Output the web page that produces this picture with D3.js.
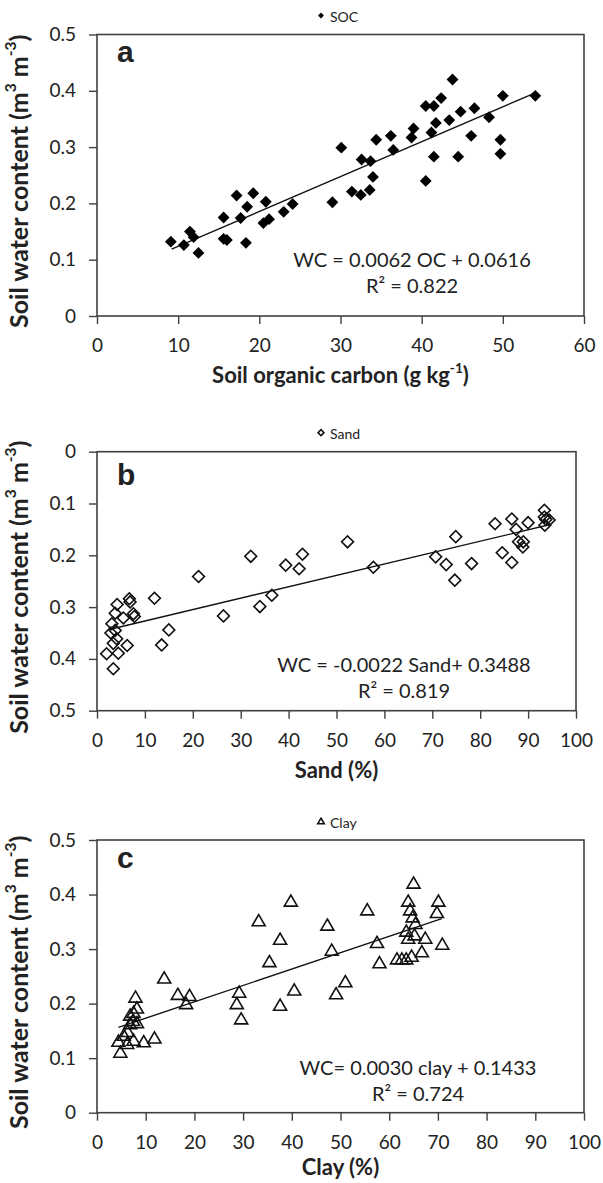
<!DOCTYPE html>
<html>
<head>
<meta charset="utf-8">
<script src="https://cdnjs.cloudflare.com/ajax/libs/d3/7.8.5/d3.min.js"></script>
<style>
  body { margin: 0; background: #fff; }
  svg { display: block; }
  .tick text { font-family: Lato, "Open Sans", sans-serif; font-size: 19px; fill: #222; }
</style>
</head>
<body>
<svg id="chart" width="603" height="1183"></svg>
<script>
// Panel a: soil organic carbon (g/kg) vs water content
const socOC = [9.1, 10.7, 11.45, 11.9, 12.5, 15.6, 15.6, 16.0, 17.2, 17.7, 18.35, 18.5, 19.25, 20.8, 20.5,
  21.2, 23.0, 24.1, 29.0, 30.1, 31.4, 32.5, 32.6, 33.6, 33.7, 34.0, 34.4, 36.2, 36.5, 38.75, 39.0, 40.5,
  40.5, 41.2, 41.5, 41.5, 41.75, 42.4, 43.4, 43.8, 44.5, 44.8, 46.1, 46.5, 48.3, 49.7, 49.7, 50.0, 54.0];
const socWC = [0.132, 0.126, 0.150, 0.140, 0.112, 0.175, 0.137, 0.135, 0.214, 0.174, 0.130, 0.194, 0.218, 0.203, 0.165,
  0.172, 0.185, 0.199, 0.202, 0.299, 0.221, 0.215, 0.278, 0.224, 0.275, 0.247, 0.313, 0.320, 0.295, 0.317, 0.333, 0.240,
  0.373, 0.326, 0.283, 0.373, 0.343, 0.387, 0.348, 0.420, 0.283, 0.363, 0.320, 0.369, 0.353, 0.313, 0.288, 0.391, 0.391];

// Panel b: sand (%) vs water content
const sandPct = [2.0, 3.4, 2.9, 3.1, 3.8, 4.2, 3.4, 4.45, 4.1, 3.8, 5.5, 6.3, 6.75, 6.9, 7.6, 7.8, 12.0, 13.5,
  15.0, 21.2, 26.4, 32.1, 34.0, 36.5, 39.4, 42.2, 42.9, 52.3, 57.7, 70.7, 72.9, 74.9, 74.7, 78.2, 83.1, 84.6,
  86.6, 86.6, 87.5, 88.0, 89.0, 88.9, 90.0, 93.4, 93.4, 93.7, 93.5, 94.4];
const sandWC = [0.390, 0.419, 0.350, 0.332, 0.312, 0.295, 0.370, 0.389, 0.361, 0.345, 0.321, 0.374, 0.284, 0.290,
  0.313, 0.318, 0.283, 0.373, 0.344, 0.241, 0.317, 0.202, 0.299, 0.277, 0.219, 0.226, 0.198, 0.174, 0.223, 0.203,
  0.218, 0.164, 0.248, 0.216, 0.139, 0.195, 0.130, 0.214, 0.150, 0.174, 0.174, 0.184, 0.137, 0.113, 0.126, 0.131,
  0.142, 0.132];

// Panel c: clay (%) vs water content
const clayPct = [4.8, 4.4, 6.2, 5.5, 7.5, 9.6, 11.8, 6.3, 6.8, 7.4, 6.8, 7.5, 8.2, 8.2, 7.9, 13.8, 16.6, 19.0,
  18.3, 29.2, 28.7, 29.6, 33.2, 35.4, 37.6, 37.6, 39.8, 40.5, 47.3, 48.2, 49.1, 51.0, 55.5, 57.5, 58.0, 61.6,
  62.6, 63.5, 64.6, 63.5, 63.9, 65.0, 63.9, 64.3, 64.8, 65.4, 65.2, 67.4, 66.7, 70.1, 69.8, 70.9];
const clayWC = [0.112, 0.132, 0.128, 0.143, 0.134, 0.131, 0.138, 0.150, 0.164, 0.170, 0.180, 0.185, 0.166, 0.193,
  0.213, 0.248, 0.218, 0.216, 0.201, 0.222, 0.201, 0.173, 0.353, 0.278, 0.319, 0.198, 0.389, 0.226, 0.345, 0.299,
  0.219, 0.241, 0.373, 0.313, 0.276, 0.283, 0.283, 0.283, 0.288, 0.334, 0.321, 0.422, 0.389, 0.373, 0.360, 0.348,
  0.327, 0.321, 0.296, 0.389, 0.368, 0.310];

// Linear fits (slope, intercept, x extent of the drawn line)
const fitSlope = [0.0062, -0.0022, 0.0030];
const fitIntercept = [0.0616, 0.3488, 0.1433];
const fitFrom = [9.2, 3, 4.4];
const fitTo = [54, 94.4, 70.8];

const wcTicks = [0, 0.1, 0.2, 0.3, 0.4, 0.5];
const ocTicks = [0, 10, 20, 30, 40, 50, 60];
const pctTicks = [0, 10, 20, 30, 40, 50, 60, 70, 80, 90, 100];

const seriesNames = ['SOC', 'Sand', 'Clay'];
const panelLetters = ['a', 'b', 'c'];
const equations = ['WC = 0.0062 OC + 0.0616', 'WC = -0.0022 Sand+ 0.3488', 'WC= 0.0030 clay + 0.1433'];
const r2Values = ['0.822', '0.819', '0.724'];

const svg = d3.select('#chart');
const axisColor = '#404040';

const panels = [
  { xs: socOC, ys: socWC, xTicks: ocTicks, left: 97, right: 584, top: 34.5, bottom: 316,
    reversed: false, marker: 'diamondFilled', letterDy: 27.5, eqX: 412, eqY: 266.7, titleDy: 67,
    xTitle: ['Soil organic carbon (g kg', '-1', ')'] },
  { xs: sandPct, ys: sandWC, xTicks: pctTicks, left: 97, right: 576, top: 451.7, bottom: 710.7,
    reversed: true, marker: 'diamondOpen', letterDy: 33, eqX: 404, eqY: 671.7, titleDy: 67,
    xTitle: ['Sand (%)'] },
  { xs: clayPct, ys: clayWC, xTicks: pctTicks, left: 97, right: 584, top: 840, bottom: 1112.7,
    reversed: false, marker: 'triangleOpen', letterDy: 28.3, eqX: 418, eqY: 1075, titleDy: 62,
    xTitle: ['Clay (%)'] }
];

// Open triangle like the spreadsheet marker
const triangleType = {
  draw(ctx, size) {
    const w = Math.sqrt(size) * 0.55, h = Math.sqrt(size) * 0.47;
    ctx.moveTo(0, -h);
    ctx.lineTo(w, h);
    ctx.lineTo(-w, h);
    ctx.closePath();
  }
};

function drawMarker(g, kind, x, y, scale) {
  if (kind === 'triangleOpen') {
    return g.append('path')
      .attr('d', d3.symbol(triangleType, 140 * scale * scale)())
      .attr('transform', `translate(${x},${y})`)
      .attr('fill', 'none').attr('stroke', '#111').attr('stroke-width', 1.6);
  }
  const p = g.append('path')
    .attr('d', d3.symbol(d3.symbolSquare, 70 * scale * scale)())
    .attr('transform', `translate(${x},${y}) rotate(45)`);
  if (kind === 'diamondFilled') p.attr('fill', '#000');
  else p.attr('fill', 'none').attr('stroke', '#111').attr('stroke-width', 1.6);
  return p;
}

// text pieces alternate [normal, sup, normal, sup, ...]
function writeParts(text, parts) {
  parts.forEach((s, i) => {
    const t = text.append('tspan').text(s);
    if (i % 2 === 1) t.attr('font-size', '0.62em').attr('dy', '-0.75em');
    else if (i > 0) t.attr('dy', '0.465em');
  });
}

panels.forEach((p, i) => {
  const g = svg.append('g').attr('class', `panel panel-${panelLetters[i]}`);

  const x = d3.scaleLinear().domain([0, p.xTicks[p.xTicks.length - 1]]).range([p.left, p.right]);
  const y = d3.scaleLinear().domain([0, 0.5])
    .range(p.reversed ? [p.top, p.bottom] : [p.bottom, p.top]);

  // axes
  g.append('g')
    .attr('transform', `translate(${p.left},0)`)
    .call(d3.axisLeft(y).tickValues(wcTicks).tickSize(8).tickSizeOuter(0).tickPadding(13)
      .tickFormat(d => d === 0 ? '0' : d.toFixed(1)))
    .call(a => a.select('.domain').remove())
    .call(a => a.selectAll('line').attr('stroke', axisColor).attr('stroke-width', 1.4));

  g.append('g')
    .attr('transform', `translate(0,${p.bottom})`)
    .call(d3.axisBottom(x).tickValues(p.xTicks).tickSize(8).tickSizeOuter(0).tickPadding(15)
      .tickFormat(d3.format('d')))
    .call(a => a.select('.domain').remove())
    .call(a => a.selectAll('line').attr('stroke', axisColor).attr('stroke-width', 1.4));

  // plot frame
  g.append('rect')
    .attr('x', p.left).attr('y', p.top)
    .attr('width', p.right - p.left).attr('height', p.bottom - p.top)
    .attr('fill', 'none').attr('stroke', axisColor).attr('stroke-width', 1.6);

  // fit line
  const line = d3.line().x(d => x(d)).y(d => y(fitSlope[i] * d + fitIntercept[i]));
  g.append('path')
    .datum([fitFrom[i], fitTo[i]])
    .attr('d', line)
    .attr('fill', 'none').attr('stroke', '#111').attr('stroke-width', 1.4);

  // points
  const pts = g.append('g').attr('class', 'points');
  p.xs.forEach((v, k) => drawMarker(pts, p.marker, x(v), y(p.ys[k]), 1));

  // legend above the frame
  const cx = (p.left + p.right) / 2;
  drawMarker(g, p.marker, 321, p.top - 19, 0.5);
  g.append('text')
    .attr('x', 330).attr('y', p.top - 12.5)
    .attr('font-family', 'Lato, sans-serif').attr('font-size', 14).attr('fill', '#222')
    .text(seriesNames[i]);

  // panel letter
  g.append('text')
    .attr('x', 117).attr('y', p.top + p.letterDy)
    .attr('font-family', '"Liberation Sans", Arial, sans-serif').attr('font-weight', 'bold')
    .attr('font-size', 30).attr('fill', '#222')
    .text(panelLetters[i]);

  // equation and R²
  g.append('text')
    .attr('x', p.eqX).attr('y', p.eqY).attr('text-anchor', 'middle')
    .attr('font-family', 'Lato, sans-serif').attr('font-size', 20).attr('fill', '#222')
    .text(equations[i]);
  g.append('text')
    .attr('x', p.eqX).attr('y', p.eqY + 26).attr('text-anchor', 'middle')
    .attr('font-family', 'Lato, sans-serif').attr('font-size', 20).attr('fill', '#222')
    .text(`R\u00B2 = ${r2Values[i]}`);

  // x title
  const xt = g.append('text')
    .attr('x', cx).attr('y', p.bottom + p.titleDy).attr('text-anchor', 'middle')
    .attr('font-family', 'Lato, sans-serif').attr('font-weight', 'bold')
    .attr('font-size', 22).attr('fill', '#222');
  writeParts(xt, p.xTitle);

  // y title
  const yt = g.append('text')
    .attr('transform', `translate(28,${(p.top + p.bottom) / 2 + 6}) rotate(-90)`)
    .attr('text-anchor', 'middle')
    .attr('font-family', 'Lato, sans-serif').attr('font-weight', 'bold')
    .attr('font-size', 25).attr('fill', '#222');
  writeParts(yt, ['Soil water content (m', '3', ' m', '-3', ')']);
});
</script>
</body>
</html>
